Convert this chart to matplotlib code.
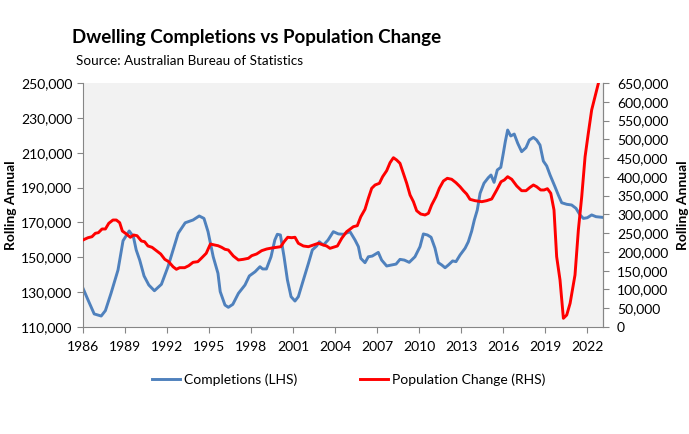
import matplotlib
matplotlib.use("Agg")
import matplotlib.pyplot as plt
from matplotlib.ticker import FuncFormatter, MultipleLocator

plt.rcParams['font.family'] = ['Lato', 'DejaVu Sans']

# Completions (LHS), rolling annual
comp_year = [1986.0, 1986.36, 1986.8, 1987.3, 1987.6, 1988.0, 1988.5, 1988.86, 1989.3, 1989.6,
             1989.8, 1990.05, 1990.36, 1990.7, 1991.1, 1991.6, 1992.07, 1992.8, 1993.3, 1993.86,
             1994.3, 1994.64, 1994.93, 1995.3, 1995.64, 1995.8, 1996.14, 1996.38, 1996.7, 1997.1,
             1997.57, 1997.88, 1998.29, 1998.64, 1998.83, 1999.1, 1999.43, 1999.7, 1999.88, 2000.1,
             2000.36, 2000.6, 2000.86, 2001.14, 2001.38, 2001.74, 2002.1, 2002.38, 2002.69, 2002.88,
             2003.17, 2003.5, 2003.88, 2004.24, 2004.6, 2005.07, 2005.43, 2005.67, 2005.84, 2006.14,
             2006.38, 2006.66, 2007.09, 2007.33, 2007.69, 2008.05, 2008.36, 2008.64, 2008.95, 2009.3,
             2009.71, 2010.07, 2010.31, 2010.6, 2010.86, 2011.14, 2011.38, 2011.62, 2011.86, 2012.1,
             2012.4, 2012.64, 2012.93, 2013.29, 2013.52, 2013.76, 2013.95, 2014.16, 2014.36, 2014.64,
             2014.95, 2015.14, 2015.36, 2015.59, 2015.84, 2016.02, 2016.16, 2016.33, 2016.55, 2016.8,
             2017.05, 2017.33, 2017.64, 2017.88, 2018.17, 2018.4, 2018.64, 2018.88, 2019.12, 2019.36,
             2019.71, 2019.95, 2020.19, 2020.55, 2020.9, 2021.21, 2021.5, 2021.74, 2022.02, 2022.33,
             2022.64, 2023.12]
completions = [132200, 125500, 117500, 116300, 119400, 129300, 142700, 159500, 165100, 161800,
               154200, 148400, 139300, 134100, 130800, 134500, 144600, 163800, 169800, 171400,
               173700, 172300, 164700, 150300, 140800, 130300, 122600, 121300, 123000, 129300,
               134100, 139300, 141700, 144600, 143300, 143300, 150300, 159900, 163200, 162800,
               150300, 137000, 127400, 124900, 127400, 137000, 146500, 154200, 156500, 158900,
               157000, 159900, 164700, 163400, 163200, 164700, 159900, 156100, 149400, 146900,
               150300, 150700, 152800, 148400, 145000, 145600, 146100, 148800, 148400, 147100,
               150300, 156100, 163400, 162800, 161500, 155200, 146900, 145600, 144000, 145600,
               147900, 147500, 151300, 155200, 158900, 165000, 171400, 177100, 186700, 192500,
               195700, 197200, 193000, 200100, 201600, 209700, 216300, 223000, 219600, 220700,
               215400, 210600, 212900, 217300, 218800, 217300, 214400, 205200, 202400, 197200,
               190500, 185700, 181300, 180400, 180000, 178100, 174300, 172300, 172700, 174300,
               173300, 172900]

# Population change (RHS), rolling annual
pop_year = [1986.0, 1986.36, 1986.64, 1986.88, 1987.1, 1987.36, 1987.6, 1987.84, 1988.14, 1988.38,
            1988.62, 1988.81, 1989.1, 1989.38, 1989.62, 1989.86, 1990.17, 1990.4, 1990.64, 1990.93,
            1991.24, 1991.55, 1991.84, 1992.12, 1992.43, 1992.67, 1992.9, 1993.26, 1993.55, 1993.86,
            1994.2, 1994.45, 1994.8, 1995.1, 1995.4, 1995.64, 1995.9, 1996.14, 1996.38, 1996.74,
            1997.1, 1997.45, 1997.81, 1998.05, 1998.4, 1998.76, 1999.12, 1999.48, 1999.83, 2000.12,
            2000.36, 2000.62, 2000.9, 2001.14, 2001.38, 2001.74, 2002.1, 2002.45, 2002.81, 2003.17,
            2003.4, 2003.64, 2003.88, 2004.17, 2004.48, 2004.83, 2005.31, 2005.59, 2005.84, 2006.14,
            2006.38, 2006.62, 2006.86, 2007.17, 2007.4, 2007.69, 2007.93, 2008.17, 2008.4, 2008.64,
            2008.88, 2009.12, 2009.36, 2009.6, 2009.83, 2010.12, 2010.43, 2010.67, 2010.9, 2011.21,
            2011.45, 2011.74, 2012.02, 2012.33, 2012.64, 2012.93, 2013.17, 2013.4, 2013.64, 2014.0,
            2014.48, 2014.83, 2015.19, 2015.55, 2015.86, 2016.09, 2016.33, 2016.62, 2016.98, 2017.33,
            2017.64, 2017.93, 2018.17, 2018.4, 2018.69, 2018.93, 2019.17, 2019.41, 2019.64, 2019.83,
            2020.07, 2020.31, 2020.55, 2020.79, 2021.14, 2021.38, 2021.62, 2021.86, 2022.09, 2022.33,
            2022.57, 2022.81, 2023.12]
pop_change = [231800, 237900, 240500, 249600, 251300, 261100, 261100, 276200, 285000, 285000,
              277900, 255700, 247700, 239000, 245100, 243200, 229100, 227200, 215800, 212300,
              203300, 194500, 180300, 174000, 160600, 153700, 158000, 158000, 163300, 172300,
              174000, 183000, 196300, 221100, 218400, 216600, 212300, 207000, 205100, 189100,
              178500, 180300, 183000, 190000, 194500, 203300, 207800, 210400, 212300, 213900,
              227200, 239000, 237900, 239000, 223000, 215800, 213900, 218400, 223000, 218400,
              215800, 209600, 212300, 215800, 236300, 253900, 267200, 269900, 293800, 313500,
              342800, 369500, 378300, 382800, 400400, 416400, 437700, 451000, 444900, 436100,
              409400, 382800, 351600, 333800, 309800, 301000, 298400, 302900, 325000, 347100,
              369500, 388900, 396100, 393500, 384400, 373700, 363100, 354300, 340100, 336500,
              333800, 336500, 341000, 365000, 387100, 391600, 400400, 393500, 375600, 363100,
              363100, 372100, 378300, 373700, 365000, 365000, 368400, 356200, 311700, 187300,
              125200, 23200, 32000, 63100, 138500, 258400, 347100, 453700, 516000, 578100,
              613500, 649200, 690000]

left_ticks = [110000, 130000, 150000, 170000, 190000, 210000, 230000, 250000]
year_ticks = list(range(1986, 2023, 3))

fig = plt.figure(figsize=(6.89, 4.34), dpi=100)
ax = fig.add_axes([83 / 689, 107 / 434, 520 / 689, 244 / 434])
ax2 = ax.twinx()

ax.set_facecolor('#F2F2F2')
ax.plot(comp_year, completions, color='#4F81BD', lw=2.1, label='Completions (LHS)')
ax2.plot(pop_year, pop_change, color='#FF0000', lw=2.1, label='Population Change (RHS)')

ax.set_xlim(1986, 2023.14)
ax.set_ylim(110000, 250000)
ax.set_yticks(left_ticks)
ax2.set_ylim(0, 650000)
ax2.yaxis.set_major_locator(MultipleLocator(50000))
ax.set_xticks(year_ticks)

fmt = FuncFormatter(lambda v, p: f'{int(v):,}')
ax.yaxis.set_major_formatter(fmt)
ax2.yaxis.set_major_formatter(fmt)

for a in (ax, ax2):
    a.spines['top'].set_visible(False)
    for s in ('left', 'right', 'bottom'):
        a.spines[s].set_color('#868686')
    a.tick_params(colors='#868686', labelcolor='black', labelsize=10, length=4, direction='out')
ax2.spines['left'].set_visible(False)
ax2.spines['bottom'].set_visible(False)
ax.tick_params(axis='x', pad=6)
ax2.tick_params(axis='y', pad=6)

ax.set_ylabel('Rolling Annual', fontsize=10, fontweight='bold', labelpad=3)
ax2.set_ylabel('Rolling Annual', fontsize=10, fontweight='bold', labelpad=6)

fig.text(72 / 689, 1 - 37 / 434, 'Dwelling Completions vs Population Change',
         fontsize=13.5, fontweight='bold', va='center', ha='left')
fig.text(76 / 689, 1 - 61 / 434, 'Source: Australian Bureau of Statistics',
         fontsize=9.7, va='center', ha='left')

h1, l1 = ax.get_legend_handles_labels()
h2, l2 = ax2.get_legend_handles_labels()
fig.legend(h1 + h2, l1 + l2, loc='center', bbox_to_anchor=(349 / 689, 1 - 380 / 434),
           ncol=2, frameon=False, fontsize=10, handlelength=2.0, handletextpad=0.3,
           columnspacing=4.5)

fig.savefig('out.png', dpi=100)
